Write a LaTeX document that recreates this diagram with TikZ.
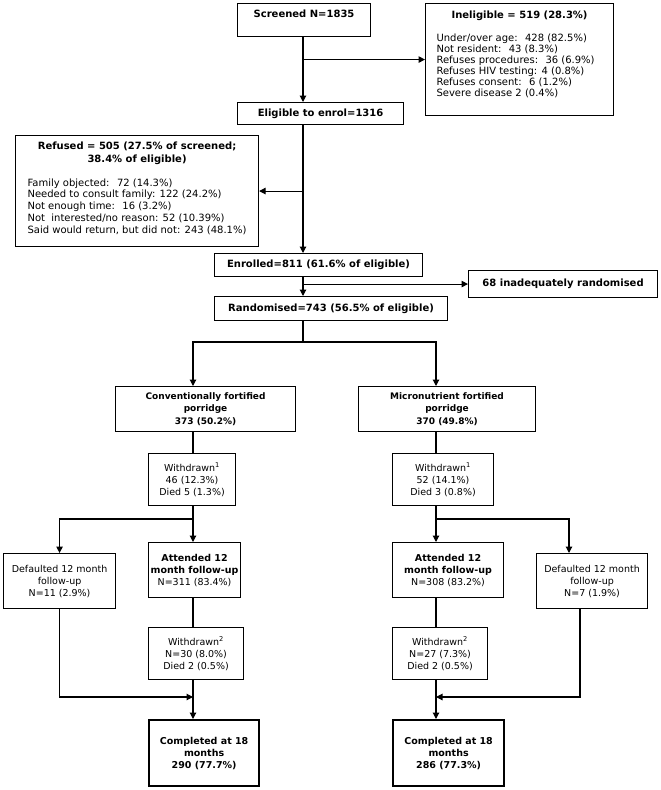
\documentclass[tikz,border=0pt]{standalone}
\usepackage{fontspec}
\setmainfont{DejaVu Sans}
\usetikzlibrary{arrows.meta}

\tikzset{
  box/.style={draw, line width=1.1pt, anchor=north west, align=center, inner sep=2pt,
    font=\fontsize{10}{12}\selectfont},
  lowbox/.style={box, font=\fontsize{9.5}{12}\selectfont},
  armbox/.style={box, font=\fontsize{9}{12.5}\selectfont\bfseries},
  endbox/.style={lowbox, line width=2.2pt},
  flowline/.style={line width=1.1pt},
  flowarrow/.style={flowline, -{Triangle[length=6.5pt,width=6.5pt]}},
}

\begin{document}
\begin{tikzpicture}[x=1pt, y=-1pt]
  \useasboundingbox (0,0) rectangle (661,790);
  % screening and enrolment
  \node[box, minimum width=133, minimum height=33, text height=10pt, text depth=15pt]
    (screened) at (237,3) {\textbf{Screened N=1835}};
  \node[box, inner xsep=11pt, inner ysep=7pt] (inelig) at (425,3) {%
    \parbox[c][98pt][t]{166pt}{\centering\textbf{Ineligible = 519 (28.3\%)}\par
      \vspace{12pt}\raggedright\fontsize{10}{11.1}\selectfont
      Under/over age:~ 428 (82.5\%)\\
      Not resident:~ 43 (8.3\%)\\
      Refuses procedures:~ 36 (6.9\%)\\
      Refuses HIV testing: 4 (0.8\%)\\
      Refuses consent:~ 6 (1.2\%)\\
      Severe disease 2 (0.4\%)}};
  \node[box, minimum width=166, minimum height=22] (elig) at (237,102)
    {\textbf{Eligible to enrol=1316}};
  \node[box, inner xsep=7.5pt, inner ysep=6pt] (refused) at (15,135) {%
    \parbox[c][99pt][t]{228pt}{\fontsize{10}{13}\selectfont\centering
      \textbf{Refused = 505 (27.5\% of screened;\\ 38.4\% of eligible)}\par
      \vspace{12.2pt}\raggedright\leftskip=4.5pt\fontsize{10}{11.8}\selectfont
      Family objected:~ 72 (14.3\%)\\
      Needed to consult family: 122 (24.2\%)\\
      Not enough time:~ 16 (3.2\%)\\
      Not~ interested/no reason: 52 (10.39\%)\\
      Said would return, but did not: 243 (48.1\%)}};
  \node[box, minimum width=208, minimum height=23] (enrol) at (214,253)
    {\textbf{Enrolled=811 (61.6\% of eligible)}};
  \node[box, minimum width=189, minimum height=27] (inad) at (468,270)
    {\textbf{68 inadequately randomised}};
  \node[box, minimum width=233, minimum height=24] (rand) at (214,296)
    {\textbf{Randomised=743 (56.5\% of eligible)}};

  % study arms
  \node[armbox, minimum width=180, minimum height=45] (conv) at (115,386)
    {Conventionally fortified\\ porridge\\ 373 (50.2\%)};
  \node[armbox, minimum width=177, minimum height=45] (micro) at (358,386)
    {Micronutrient fortified\\ porridge\\ 370 (49.8\%)};
  \node[lowbox, minimum width=87, minimum height=52] (wdL) at (148,453)
    {Withdrawn\textsuperscript{1}\\ 46 (12.3\%)\\ Died 5 (1.3\%)};
  \node[lowbox, minimum width=101, minimum height=52] (wdR) at (392,453)
    {Withdrawn\textsuperscript{1}\\ 52 (14.1\%)\\ Died 3 (0.8\%)};
  \node[lowbox, minimum width=112, minimum height=55] (defL) at (3,553)
    {Defaulted 12 month\\ follow-up\\ N=11 (2.9\%)};
  \node[lowbox, minimum width=111, minimum height=55] (defR) at (536,553)
    {Defaulted 12 month\\ follow-up\\ N=7 (1.9\%)};
  \node[lowbox, minimum width=92, minimum height=55, inner xsep=0.5pt] (attL) at (148,542)
    {\textbf{Attended 12}\\ \textbf{month follow-up}\\ N=311 (83.4\%)};
  \node[lowbox, minimum width=111, minimum height=55] (attR) at (392,542)
    {\textbf{Attended 12}\\ \textbf{month follow-up}\\ N=308 (83.2\%)};
  \node[lowbox, minimum width=95, minimum height=52] (wd2L) at (148,627)
    {Withdrawn\textsuperscript{2}\\ N=30 (8.0\%)\\ Died 2 (0.5\%)};
  \node[lowbox, minimum width=95, minimum height=52] (wd2R) at (392,627)
    {Withdrawn\textsuperscript{2}\\ N=27 (7.3\%)\\ Died 2 (0.5\%)};
  \node[endbox, minimum width=110, minimum height=66] (compL) at (148,719)
    {\textbf{Completed at 18}\\ \textbf{months}\\ \textbf{290 (77.7\%)}};
  \node[endbox, minimum width=111, minimum height=66] (compR) at (392,719)
    {\textbf{Completed at 18}\\ \textbf{months}\\ \textbf{286 (77.3\%)}};

  % connector positions
  \coordinate (spine) at (303,0);
  \coordinate (colL) at (193,0);
  \coordinate (colR) at (436,0);
  \coordinate (split) at (303,342);
  \coordinate (forkL) at (193,519);
  \coordinate (forkR) at (436,519);
  \coordinate (mergeL) at (193,697);
  \coordinate (mergeR) at (436,697);
  \coordinate (dropR) at (569,0);
  \coordinate (riseR) at (580,0);

  \draw[flowarrow] (spine |- screened.south) -- (spine |- elig.north);
  \draw[flowarrow] (spine |- inelig.west) -- (inelig.west);
  \draw[flowarrow] (spine |- elig.south) -- (spine |- enrol.north);
  \draw[flowarrow] (spine |- refused.east) -- (refused.east);
  \draw[flowarrow] (spine |- enrol.south) -- (spine |- rand.north);
  \draw[flowarrow] (spine |- inad.west) -- (inad.west);
  \draw[flowline] (spine |- rand.south) -- (split);
  \draw[flowarrow] (split) -| (colL |- conv.north);
  \draw[flowarrow] (split) -| (colR |- micro.north);

  \draw[flowline] (colL |- conv.south) -- (colL |- wdL.north);
  \draw[flowline] (colL |- wdL.south) -- (forkL);
  \draw[flowarrow] (forkL) -- (colL |- attL.north);
  \draw[flowarrow] (forkL) -| (defL.north);
  \draw[flowline] (colL |- attL.south) -- (colL |- wd2L.north);
  \draw[flowarrow] (colL |- wd2L.south) -- (colL |- compL.north);
  \draw[flowarrow] (defL.south) |- (mergeL);

  \draw[flowline] (colR |- micro.south) -- (colR |- wdR.north);
  \draw[flowline] (colR |- wdR.south) -- (forkR);
  \draw[flowarrow] (forkR) -- (colR |- attR.north);
  \draw[flowarrow] (forkR) -| (dropR |- defR.north);
  \draw[flowline] (colR |- attR.south) -- (colR |- wd2R.north);
  \draw[flowarrow] (colR |- wd2R.south) -- (colR |- compR.north);
  \draw[flowarrow] (riseR |- defR.south) |- (mergeR);
\end{tikzpicture}
\end{document}
